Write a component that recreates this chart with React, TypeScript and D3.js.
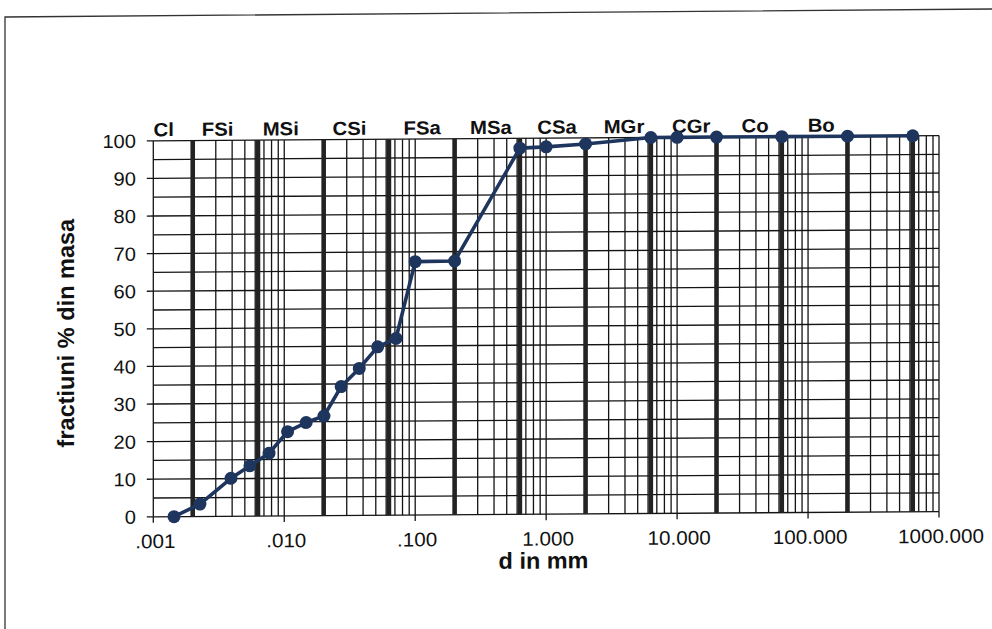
import React from "react";
import * as d3 from "d3";

// Sieve / hydrometer data (grain size d in mm, % passing)
const grainSizes = [0.00144, 0.00227, 0.00392, 0.00547, 0.00765, 0.0106, 0.0147, 0.0201, 0.0272, 0.0374, 0.0517, 0.0713, 0.1, 0.2, 0.63, 1, 2, 6.3, 10, 20, 63, 200, 630];
const percentPassing = [0, 3.3, 10.1, 13.4, 16.7, 22.4, 24.8, 26.5, 34.3, 39.1, 44.8, 47.0, 67.4, 67.5, 97.4, 97.7, 98.4, 100, 100, 100, 100, 100, 100];

// Soil class boundaries and labels
const classBoundaries = [0.002, 0.0063, 0.02, 0.063, 0.2, 0.63, 2, 6.3, 20, 63, 200, 630];
const classLabels = ["Cl", "FSi", "MSi", "CSi", "FSa", "MSa", "CSa", "MGr", "CGr", "Co", "Bo"];
const classLabelAt = [0.0012, 0.0031, 0.0094, 0.0315, 0.113, 0.379, 1.21, 3.93, 12.8, 39.4, 126];

// Axes
const xTickValues = [0.001, 0.01, 0.1, 1, 10, 100, 1000];
const xTickLabels = [".001", ".010", ".100", "1.000", "10.000", "100.000", "1000.000"];
const yTickValues = [0, 10, 20, 30, 40, 50, 60, 70, 80, 90, 100];
const yGridValues = d3.range(0, 101, 5);
const xTitle = "d in mm";
const yTitle = "fractiuni % din masa";

const FONT = "Arial, 'Liberation Sans', sans-serif";

function SText(props: { x: number; y: number; sx?: number; anchor?: string; size: number; bold?: boolean; dy?: string; children: any }) {
  const { x, y, sx = 1.07, anchor = "middle", size, bold, dy, children } = props;
  return (
    <text
      transform={`translate(${x},${y}) scale(${sx},1)`}
      dy={dy}
      textAnchor={anchor}
      fontFamily={FONT}
      fontWeight={bold ? "bold" : "normal"}
      fontSize={size}
      fill="#111"
    >
      {children}
    </text>
  );
}

export default function App() {
  const W = 992, H = 629;
  const x = d3.scaleLog().domain([0.001, 1000]).range([153.3, 939]);
  const y = d3.scaleLinear().domain([0, 100]).range([514.2, 138.2]);

  const minorX: number[] = [];
  for (let k = -3; k <= 2; k++) {
    for (let m = 1; m <= 9; m++) minorX.push(m * Math.pow(10, k));
  }
  minorX.push(1000);

  const line = d3.line<number>()
    .x((_, i) => x(grainSizes[i]))
    .y((v) => y(v));

  const navy = "#1e355e";
  const x0 = x.range()[0], x1 = x.range()[1];
  const y0 = y.range()[0], y1 = y.range()[1];

  return (
    <svg width={W} height={H} style={{ position: "absolute", left: 0, top: 0, background: "#fff" }}>
      <rect x={0} y={0} width={W} height={H} fill="#fff" />
      <path d="M5,629 L5,17 L992,9" fill="none" stroke="#333" strokeWidth={1.3} />
      <g transform="matrix(1,-0.0066,0,1,0,3.6)">
        {/* horizontal grid */}
        {yGridValues.map((v) => (
          <line key={"h" + v} x1={x0} x2={x1} y1={y(v)} y2={y(v)} stroke="#141414" strokeWidth={1.3} />
        ))}
        {/* minor vertical grid */}
        {minorX.map((v, i) => (
          <line key={"v" + i} x1={x(v)} x2={x(v)} y1={y0} y2={y1} stroke="#141414" strokeWidth={1.3} />
        ))}
        {/* class boundaries */}
        {classBoundaries.map((v) => (
          <line key={"c" + v} x1={x(v)} x2={x(v)} y1={y0} y2={y1} stroke="#232323" strokeWidth={4.6} />
        ))}
        {/* y ticks */}
        {yTickValues.map((v) => (
          <g key={"yt" + v}>
            <line x1={x0 - 6.5} x2={x0} y1={y(v)} y2={y(v)} stroke="#141414" strokeWidth={1.3} />
            <SText x={136} y={y(v)} dy="0.36em" anchor="end" size={19} sx={1.06}>{v}</SText>
          </g>
        ))}
        {/* x ticks */}
        {xTickValues.map((v, i) => (
          <g key={"xt" + v}>
            <line x1={x(v)} x2={x(v)} y1={y0} y2={y0 + 6} stroke="#141414" strokeWidth={1.3} />
            <SText x={x(v) + 2} y={545.5} size={19.5} sx={1.06}>{xTickLabels[i]}</SText>
          </g>
        ))}
        {/* class labels */}
        {classLabels.map((t, i) => (
          <SText key={"cl" + t} x={x(classLabelAt[i])} y={133.6} size={19} bold sx={1.07}>{t}</SText>
        ))}
        {/* data */}
        <path d={line(percentPassing) || ""} fill="none" stroke={navy} strokeWidth={3.6} strokeLinejoin="round" />
        {percentPassing.map((v, i) => (
          <circle key={"p" + i} cx={x(grainSizes[i])} cy={y(v)} r={6.5} fill={navy} />
        ))}
        {/* titles */}
        <SText x={543.5} y={568.5} size={23} bold sx={1.02}>{xTitle}</SText>
        <text transform="translate(74,330) rotate(-90)" textAnchor="middle" fontFamily={FONT} fontWeight="bold" fontSize={23.5} fill="#111">{yTitle}</text>
      </g>
    </svg>
  );
}
